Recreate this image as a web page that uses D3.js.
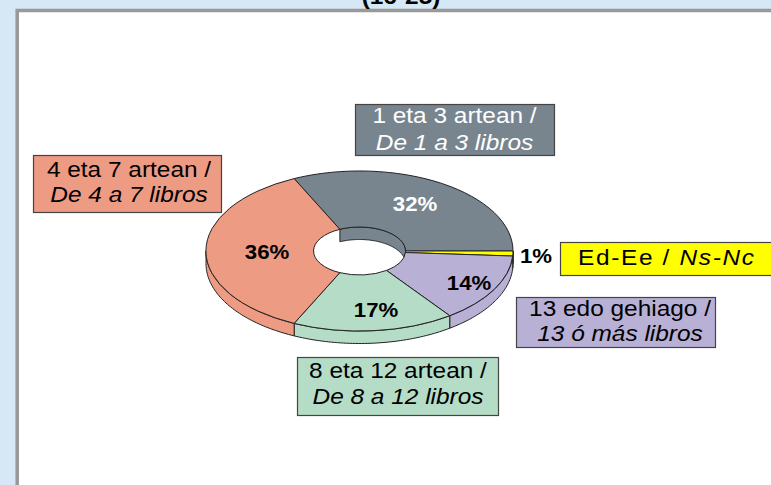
<!DOCTYPE html>
<html><head><meta charset="utf-8">
<script src="https://cdn.jsdelivr.net/npm/d3@7/dist/d3.min.js"></script>
<style>html,body{margin:0;padding:0;background:#d6e7f5;overflow:hidden}svg{display:block}text{font-family:"Liberation Sans",Arial,sans-serif}</style>
</head><body><svg id="c" width="771" height="485"></svg>
<script>
const categories = ["1 eta 3 artean /","Ed-Ee /","13 edo gehiago /","8 eta 12 artean /","4 eta 7 artean /"];
const categoriesEs = ["De 1 a 3 libros","Ns-Nc","13 ó más libros","De 8 a 12 libros","De 4 a 7 libros"];
const values = [32,1,14,17,36];
const colors = ["#78858f","#ffff00","#b9b0d5","#b5dcc6","#ee9b84"];
const labelColors = ["#fff","#000","#000","#000","#000"];
const boxes = [[355,104,199,51],[560,242,215,33],[516,297,199,50],[297,357,201,58],[33,155,188,57]];
const textPos = [[454.5,123,150],[578,265,265],[620,316,341],[398,378,404],[129,177,202]];
const pctPos = [[415,204],[536,256],[469,283],[376,310],[267,252]];

const W=771,H=485, cx=359.5, cy=251, rx=153.5, ry=80, ratio=0.3, depth=12.5, stretch=1.11;
const svg=d3.select("#c");
const txt=(x,y)=>svg.append("text").attr("transform",`translate(${x},${y}) scale(${stretch},1)`);
svg.append("rect").attr("width",W).attr("height",H).attr("fill","#d6e7f5");
svg.append("rect").attr("x",17.2).attr("y",10.5).attr("width",W).attr("height",H).attr("fill","#fff").attr("stroke","#999").attr("stroke-width",3.5);
txt(401,4).attr("text-anchor","middle").attr("font-weight","bold").attr("font-size",22).text("(16-25)");

const start=-25.2*Math.PI/180;
const arcs=d3.pie().sort(null).startAngle(start).endAngle(start+2*Math.PI)(values);
const px=d3.scaleLinear().domain([-1,1]).range([cx-rx,cx+rx]);
const py=d3.scaleLinear().domain([-1,1]).range([cy-ry,cy+ry]);
const line=d3.line().curve(d3.curveLinear);
const pt=(a,r,dy)=>[px(r*Math.sin(a)),py(-r*Math.cos(a))+dy];
function wall(a0,a1,r){
  const n=Math.max(2,Math.ceil((a1-a0)/0.02));
  const as=d3.range(n+1).map(i=>a0+(a1-a0)*i/n);
  return line(as.map(a=>pt(a,r,0)).concat(as.slice().reverse().map(a=>pt(a,r,depth))))+"Z";
}
const applyS=s=>s.attr("stroke","#222").attr("stroke-width",1).attr("stroke-linejoin","round");
const g=svg.append("g");
const P=Math.PI;
// inner wall (back part of the hole) and outer wall (front part of the ring)
arcs.forEach((d,i)=>{
  [[-P/2,P/2,ratio],[P/2,3*P/2,1]].forEach(([lo,hi,r])=>{
    const a0=Math.max(d.startAngle,lo),a1=Math.min(d.endAngle,hi);
    if(a1>a0) applyS(g.append("path").attr("d",wall(a0,a1,r)).attr("fill",colors[i]));
  });
});
// top face
const arc=d3.arc().innerRadius(ratio).outerRadius(1);
const face=svg.append("g").attr("transform",`translate(${cx},${cy}) scale(${rx},${ry})`);
arcs.forEach((d,i)=>{
  applyS(face.append("path").attr("d",arc(d)).attr("fill",colors[i])).attr("vector-effect","non-scaling-stroke");
});
// percent labels
values.forEach((v,i)=>{
  txt(pctPos[i][0],pctPos[i][1]).attr("text-anchor","middle").attr("dominant-baseline","central")
   .attr("font-weight","bold").attr("font-size",20).attr("fill",labelColors[i]).text(v+"%");
});
// label boxes
categories.forEach((c,i)=>{
  const [x,y,w,h]=boxes[i];
  svg.append("rect").attr("x",x+.5).attr("y",y+.5).attr("width",w).attr("height",h).attr("fill",colors[i]).attr("stroke","#444").attr("stroke-width",1.2);
  const col=i==0?"#fff":"#000";
  const [tx,y1,y2]=textPos[i];
  if(i==1){
    const t=txt(tx,y1).attr("font-size",22).attr("letter-spacing",1.5).attr("fill",col);
    t.append("tspan").text(c+" ");
    t.append("tspan").attr("font-style","italic").text(categoriesEs[i]);
  } else {
    txt(tx,y1).attr("text-anchor","middle").attr("font-size",22).attr("fill",col).text(c);
    txt(tx,y2).attr("text-anchor","middle").attr("font-size",22).attr("font-style","italic").attr("fill",col).text(categoriesEs[i]);
  }
});
</script></body></html>
